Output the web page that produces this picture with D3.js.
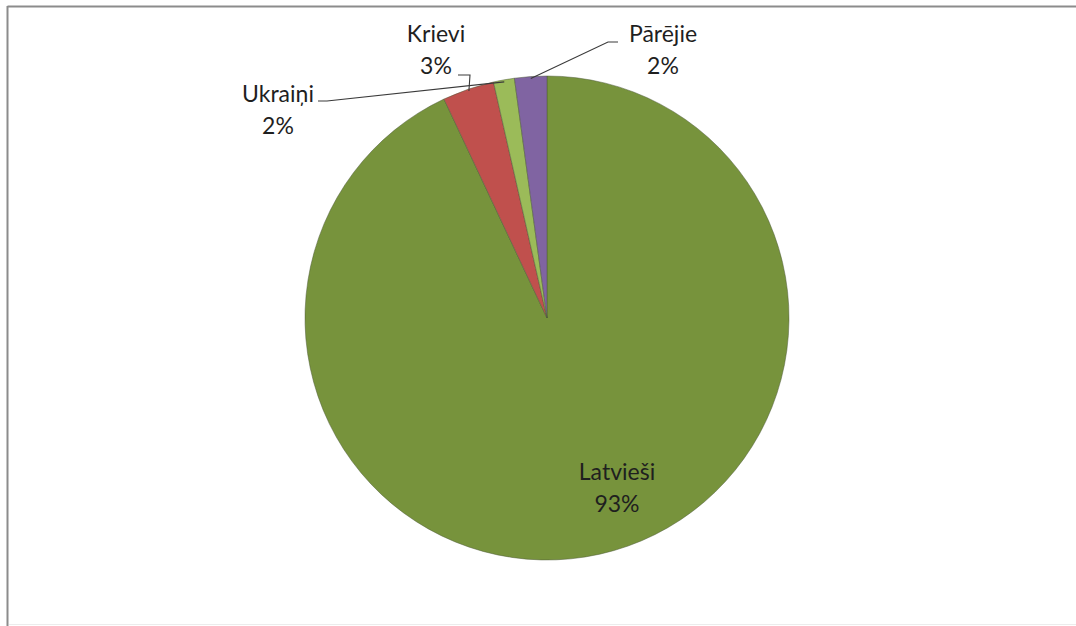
<!DOCTYPE html>
<html>
<head>
<meta charset="utf-8">
<script src="https://cdn.jsdelivr.net/npm/d3@7"></script>
<style>
  html, body { margin: 0; padding: 0; background: #ffffff; }
  svg { display: block; }
  text { font-family: Lato, "Open Sans", "Liberation Sans", sans-serif; fill: #1f1f1f; }
</style>
</head>
<body>
<svg id="chart" width="1076" height="626"></svg>
<script>
// ---- data ----
const categories = ["Latvieši", "Krievi", "Ukraiņi", "Pārējie"];
const values = [93.0, 3.45, 1.4, 2.15];
const percentLabels = ["93%", "3%", "2%", "2%"];
const colors = ["#77933C", "#C0504D", "#9BBB59", "#8064A2"];

// ---- layout ----
const W = 1076, H = 626;
const cx = 547, cy = 318, R = 242;
const fontSize = 23, lineGap = 32;
// label placement: text centre offset from pie centre (first baseline); leader start/elbow
const labelLayout = [
  { tx: 70, ty: 162, leader: null },
  { tx: -111, ty: -276, leader: { start: [-89, -243], elbow: [-77, -243] } },
  { tx: -269, ty: -216, leader: { start: [-229, -217], elbow: [-220, -217] } },
  { tx: 116, ty: -276, leader: { start: [71, -276], elbow: [61, -276] } }
];

const svg = d3.select("#chart");

// frame
svg.append("line").attr("x1", 7.5).attr("x2", W).attr("y1", 6.5).attr("y2", 6.5)
  .attr("stroke", "#8c8c8c").attr("stroke-width", 2);
svg.append("line").attr("x1", 7.5).attr("x2", 7.5).attr("y1", 6).attr("y2", H)
  .attr("stroke", "#8c8c8c").attr("stroke-width", 2);
svg.append("line").attr("x1", 9).attr("x2", W).attr("y1", 624.5).attr("y2", 624.5)
  .attr("stroke", "#ececec").attr("stroke-width", 1);

const data = categories.map((c, i) => ({ name: c, value: values[i], label: percentLabels[i], color: colors[i], i }));

const pie = d3.pie().value(d => d.value).sort(null);
const arcs = pie(data);
const arc = d3.arc().innerRadius(0).outerRadius(R);
const edgeArc = d3.arc().innerRadius(R - 2).outerRadius(R - 2);

const g = svg.append("g").attr("transform", `translate(${cx},${cy})`);

g.selectAll("path.slice").data(arcs).enter().append("path")
  .attr("class", "slice")
  .attr("d", arc)
  .attr("fill", d => d.data.color)
  .attr("stroke", "#4d5a3a")
  .attr("stroke-opacity", 0.55)
  .attr("stroke-width", 0.9)
  .attr("stroke-linejoin", "round");

// leader lines
arcs.forEach((a, i) => {
  const L = labelLayout[i].leader;
  if (!L) return;
  const end = edgeArc.centroid(a);
  g.append("polyline")
    .attr("points", [L.start, L.elbow, end].map(p => p.join(",")).join(" "))
    .attr("fill", "none")
    .attr("stroke", "#3a3a3a")
    .attr("stroke-width", 1.1);
});

// labels
arcs.forEach((a, i) => {
  const lay = labelLayout[i];
  const t = g.append("text")
    .attr("text-anchor", "middle")
    .attr("font-size", fontSize)
    .attr("x", lay.tx).attr("y", lay.ty);
  t.append("tspan").attr("x", lay.tx).attr("y", lay.ty).text(a.data.name);
  t.append("tspan").attr("x", lay.tx).attr("y", lay.ty + lineGap).text(a.data.label);
});
</script>
</body>
</html>
